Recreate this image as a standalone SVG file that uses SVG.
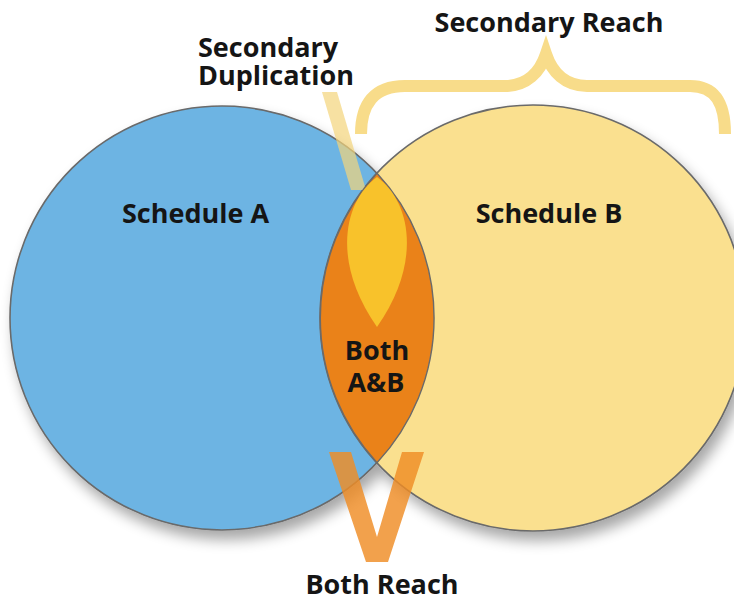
<svg xmlns="http://www.w3.org/2000/svg" width="734" height="601" viewBox="0 0 734 601">
<style>
.lbl{font-family:"Open Sans","Noto Sans","Liberation Sans",sans-serif;font-weight:700;fill:#151515;font-size:27px;}
.circ{stroke:#6a6a6a;stroke-width:1.6;}
</style>
<defs>
<filter id="sh" x="-20%" y="-20%" width="140%" height="140%">
<feGaussianBlur in="SourceAlpha" stdDeviation="7"/>
<feOffset dx="5" dy="9" result="b"/>
<feComponentTransfer><feFuncA type="linear" slope="0.35"/></feComponentTransfer>
<feMerge><feMergeNode/><feMergeNode in="SourceGraphic"/></feMerge>
</filter>
</defs>
<rect width="734" height="601" fill="#ffffff"/>
<g id="circles" filter="url(#sh)">
<g id="scheduleA"><circle class="circ" cx="222" cy="318" r="212" fill="#6db4e3"/></g>
<g id="scheduleB"><circle class="circ" cx="533" cy="318" r="213" fill="#fae08f"/></g>
</g>
<g id="connectors">
<polygon id="dupArm" points="322,92 337,92 366,190 351,190" fill="#f3d47a" opacity="0.7"/>
<path id="brace" d="M361,134 C361,104 374,86 405,86 L505,86 C527,86 540,72 546,54 C552,72 565,86 587,86 L690,86 C716,86 725,104 725,134" fill="none" stroke="#f8dc8a" stroke-width="12" stroke-linejoin="miter"/>
</g>
<g id="both">
<path d="M377,173.3 A213,213 0 0 0 377,462.7 A212,212 0 0 0 377,173.3 Z" fill="#ea8219" stroke="#6a6a6a" stroke-width="1.4"/>
<path d="M377,177 C345,200 330,260 377,327 C424,260 409,200 377,177 Z" fill="#f8c22b"/>
<text class="lbl" x="377" y="360" text-anchor="middle">Both</text>
<text class="lbl" x="376" y="392" text-anchor="middle">A&amp;B</text>
</g>
<g id="bothReachV">
<polygon points="329,452 351,452 377,537 402,452 424,452 388,562 366,562" fill="#ef8c24" opacity="0.82"/>
</g>
<g id="labels">
<text class="lbl" x="122" y="223">Schedule A</text>
<text class="lbl" x="549" y="223" text-anchor="middle">Schedule B</text>
<text class="lbl" x="198" y="57">Secondary</text>
<text class="lbl" x="198" y="85">Duplication</text>
<text class="lbl" x="549" y="32" text-anchor="middle">Secondary Reach</text>
<text class="lbl" x="382" y="594" text-anchor="middle">Both Reach</text>
</g>
</svg>
